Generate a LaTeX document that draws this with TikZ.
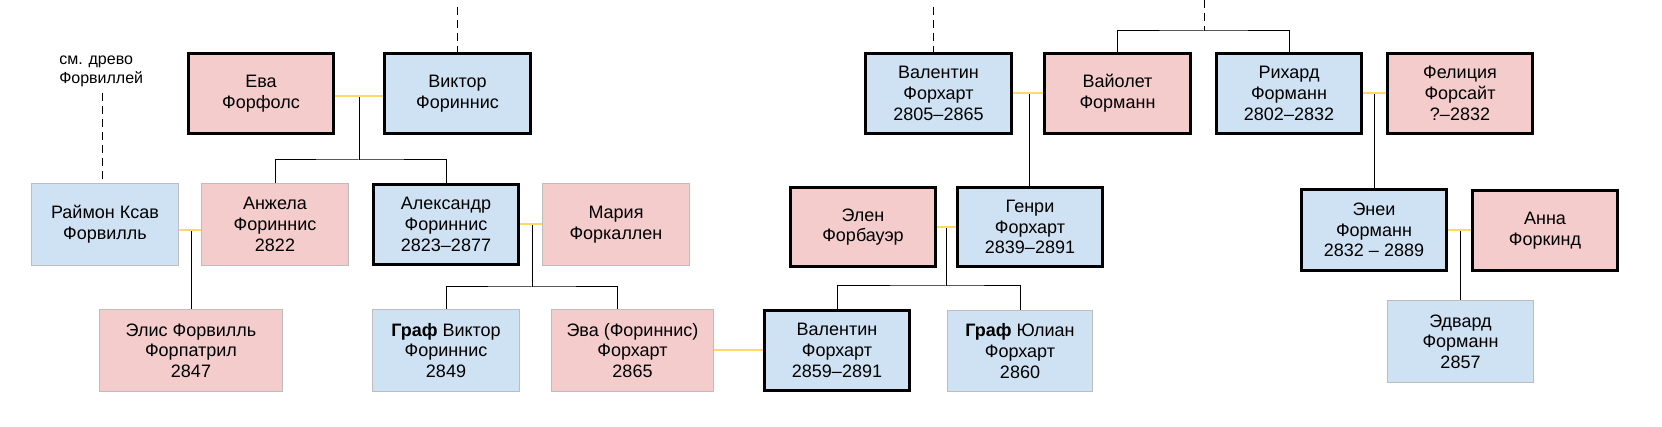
\documentclass[tikz,border=0pt]{standalone}
\usepackage{fontspec}
\setmainfont{Liberation Sans}
\usetikzlibrary{backgrounds}
\definecolor{pinkf}{HTML}{F4CCCC}
\definecolor{bluef}{HTML}{CFE2F3}
\definecolor{marrc}{HTML}{FFD966}
\definecolor{thinb}{HTML}{BDBDBD}
\newcommand\boxfont{\fontsize{13.5pt}{15.5pt}\selectfont}
\newcommand\notefont{\fontsize{12pt}{14.25pt}\selectfont}
\tikzset{
  person/.style={rectangle, align=center, inner sep=0pt, font=\boxfont, text=black},
  sz/.style 2 args={minimum width=#1*0.75pt, minimum height=#2*0.75pt},
  thickp/.style={person, draw=black, line width=2.25pt, fill=pinkf},
  thickb/.style={person, draw=black, line width=2.25pt, fill=bluef},
  thinp/.style={person, draw=thinb, line width=0.75pt, fill=pinkf},
  thinb/.style={person, draw=thinb, line width=0.75pt, fill=bluef},
  marr/.style={draw=marrc, line width=2pt},
  kin/.style={draw=black, line width=0.75pt},
  dsh/.style={draw=black, line width=0.75pt, dash pattern=on 6pt off 3.75pt},
  note/.style={align=left, inner sep=0pt, font=\notefont, text=black}
}
\begin{document}
\begin{tikzpicture}[x=0.75pt, y=-0.75pt]
\useasboundingbox (0,0) rectangle (1662,427);
% top row
\node[thickp, sz={145}{80}] (eva) at (261,93.5) {Ева\\Форфолс};
\node[thickb, sz={146}{80}] (viktor) at (457.5,93.5) {Виктор\\Фориннис};
\node[thickb, sz={146}{80}] (val1) at (938.5,93.5) {Валентин\\Форхарт\\2805–2865};
\node[thickp, sz={146}{80}] (vaiolet) at (1117.5,93.5) {Вайолет\\Форманн};
\node[thickb, sz={145}{80}] (rihard) at (1289,93.5) {Рихард\\Форманн\\2802–2832};
\node[thickp, sz={145}{80}] (felicia) at (1460,93.5) {Фелиция\\Форсайт\\?–2832};
% middle row
\node[thinb, sz={147}{82}] (raimon) at (105,224.5) {Раймон Ксав\\Форвилль};
\node[thinp, sz={147}{82}] (anzhela) at (275,224.5) {Анжела\\Фориннис\\2822};
\node[thickb, sz={145}{80}] (aleks) at (446,224.5) {Александр\\Фориннис\\2823–2877};
\node[thinp, sz={147}{82}] (maria) at (616,224.5) {Мария\\Форкаллен};
\node[thickp, sz={145}{79}] (elen) at (863,227) {Элен\\Форбауэр};
\node[thickb, sz={145}{79}] (genri) at (1030,227) {Генри\\Форхарт\\2839–2891};
\node[thickb, sz={145}{81}] (enei) at (1374,230) {Энеи\\Форманн\\2832 – 2889};
\node[thickp, sz={145}{80}] (anna) at (1545,230.5) {Анна\\Форкинд};
% bottom row
\node[thinp, sz={183}{82}] (elis) at (191,350.5) {Элис Форвилль\\Форпатрил\\2847};
\node[thinb, sz={147}{82}] (grafv) at (446,350.5) {\textbf{Граф} Виктор\\Фориннис\\2849};
\node[thinp, sz={162}{82}] (evaf) at (632.5,350.5) {Эва (Фориннис)\\Форхарт\\2865};
\node[thickb, sz={145}{80}] (val2) at (837,350.5) {Валентин\\Форхарт\\2859–2891};
\node[thinb, sz={145}{81}] (yulian) at (1020,351) {\textbf{Граф} Юлиан\\Форхарт\\2860};
\node[thinb, sz={146}{82}] (edvard) at (1460.5,341.5) {Эдвард\\Форманн\\2857};
% note
\node[note, anchor=west] (note) at (59,71.5) {см. древо\\Форвиллей};
% coordinates
\coordinate (j1) at (359,96);
\coordinate (b1) at (359,160);
\coordinate (j2) at (191,230);
\coordinate (j3) at (532,224);
\coordinate (b3) at (532,287);
\coordinate (e3) at (617,309);
\coordinate (j4) at (730,350);
\coordinate (j5) at (946,227);
\coordinate (b5) at (946,286);
\coordinate (j6) at (1029,93);
\coordinate (j7) at (1374,93);
\coordinate (j8) at (1460,230);
\coordinate (s1) at (1204,31);
\coordinate (t1) at (1204,0);
\coordinate (tv) at (457,7);
\coordinate (tv1) at (933,7);
\coordinate (tr) at (102,93);
\begin{pgfonlayer}{background}
% descent
\draw[kin] (j1) -- (b1);
\draw[kin] (anzhela.north) |- (b1) -| (aleks.north);
\draw[kin] (j2) -- (j2 |- elis.north);
\draw[kin] (j3) -- (b3);
\draw[kin] (grafv.north) |- (b3) -| (e3);
\draw[kin] (j5) -- (b5);
\draw[kin] (val2.north) |- (b5) -| (yulian.north);
\draw[kin] (j6) -- (j6 |- genri.north);
\draw[kin] (j7) -- (j7 |- enei.north);
\draw[kin] (j8) -- (j8 |- edvard.north);
\draw[kin] (vaiolet.north) |- (s1) -| (rihard.north);
% marriages
\draw[marr] (eva.east |- j1) -- (viktor.west |- j1);
\draw[marr] (raimon.east |- j2) -- (anzhela.west |- j2);
\draw[marr] (aleks.east |- j3) -- (maria.west |- j3);
\draw[marr] (evaf.east |- j4) -- (val2.west |- j4);
\draw[marr] (elen.east |- j5) -- (genri.west |- j5);
\draw[marr] (val1.east |- j6) -- (vaiolet.west |- j6);
\draw[marr] (rihard.east |- j7) -- (felicia.west |- j7);
\draw[marr] (enei.east |- j8) -- (anna.west |- j8);
% dashed ancestry
\draw[dsh] (t1) -- (s1);
\draw[dsh] (tv) -- (tv |- viktor.north);
\draw[dsh] (tv1) -- (tv1 |- val1.north);
\draw[dsh] (tr) -- (tr |- raimon.north);
\end{pgfonlayer}
\end{tikzpicture}
\end{document}
